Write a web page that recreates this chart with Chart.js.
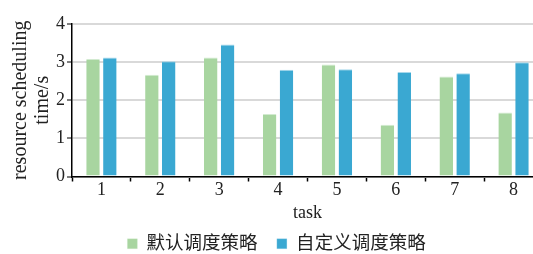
<!DOCTYPE html>
<html>
<head>
<meta charset="utf-8">
<script src="https://cdn.jsdelivr.net/npm/chart.js@4"></script>
<style>
  html, body { margin: 0; padding: 0; background: #fff; overflow: hidden; }
  #wrap { position: absolute; left: 0; top: 0; width: 545px; height: 254px; }
</style>
</head>
<body>
<div id="wrap"><canvas id="chart" width="545" height="254"></canvas></div>
<script>
// task numbers on the x axis
const tasks = ['1', '2', '3', '4', '5', '6', '7', '8'];
// resource scheduling time, seconds
const defaultPolicy = [3.08, 2.67, 3.12, 1.64, 2.94, 1.36, 2.62, 1.68];
const customPolicy = [3.12, 3.02, 3.46, 2.80, 2.81, 2.74, 2.71, 3.00];
const seriesNames = ['默认调度策略', '自定义调度策略'];
const yTicks = [0, 1, 2, 3, 4];

const serif = "'Liberation Serif', 'Times New Roman', serif";
const legendFont = "'Liberation Serif', 'Noto Sans CJK SC', serif";

new Chart(document.getElementById('chart'), {
    type: 'bar',
    data: {
        labels: tasks,
        datasets: [
            {
                label: seriesNames[0],
                data: defaultPolicy,
                backgroundColor: '#a8d5a0',
                borderColor: '#d2ead0',
                borderWidth: { top: 1, left: 0, right: 0, bottom: 0 },
                categoryPercentage: 0.573,
                barPercentage: 0.8
            },
            {
                label: seriesNames[1],
                data: customPolicy,
                backgroundColor: '#3aa8d2',
                borderColor: '#a6d8ec',
                borderWidth: { top: 1, left: 0, right: 0, bottom: 0 },
                categoryPercentage: 0.573,
                barPercentage: 0.8
            }
        ]
    },
    options: {
        responsive: false,
        animation: false,
        layout: { padding: { left: 10, right: 2, top: 24, bottom: -9 } },
        scales: {
            x: {
                grid: { drawOnChartArea: false, color: '#000', tickLength: 5, tickWidth: 1.5 },
                border: { color: '#000', width: 1.5 },
                ticks: { color: '#222', font: { family: serif, size: 18 }, padding: -2 },
                title: { display: true, text: 'task', color: '#222', font: { family: serif, size: 18 }, padding: { top: 3, bottom: 0 } },
                afterFit: s => { s.height = 48; }
            },
            y: {
                min: 0,
                max: 4,
                afterBuildTicks: s => { s.ticks = yTicks.map(v => ({ value: v })); },
                grid: { color: '#d9d9d9', lineWidth: 2, tickColor: '#000', tickLength: 5, tickWidth: 1 },
                border: { color: '#000', width: 1.5 },
                ticks: { color: '#222', font: { family: serif, size: 18 }, padding: 2 },
                title: { display: true, text: ['resource scheduling', 'time/s'], color: '#222', font: { family: serif, size: 20, lineHeight: 1.1 }, padding: 0 },
                afterFit: s => { s.width = 62; }
            }
        },
        plugins: {
            legend: {
                position: 'bottom',
                labels: {
                    boxWidth: 10,
                    boxHeight: 10,
                    color: '#222',
                    padding: 10,
                    font: { family: legendFont, size: 18.5 },
                    generateLabels: chart => Chart.defaults.plugins.legend.labels.generateLabels(chart)
                        .map((item, i) => Object.assign(item, { text: i === 0 ? item.text + '  ' : item.text }))
                }
            },
            tooltip: { enabled: false }
        }
    }
});
</script>
</body>
</html>
